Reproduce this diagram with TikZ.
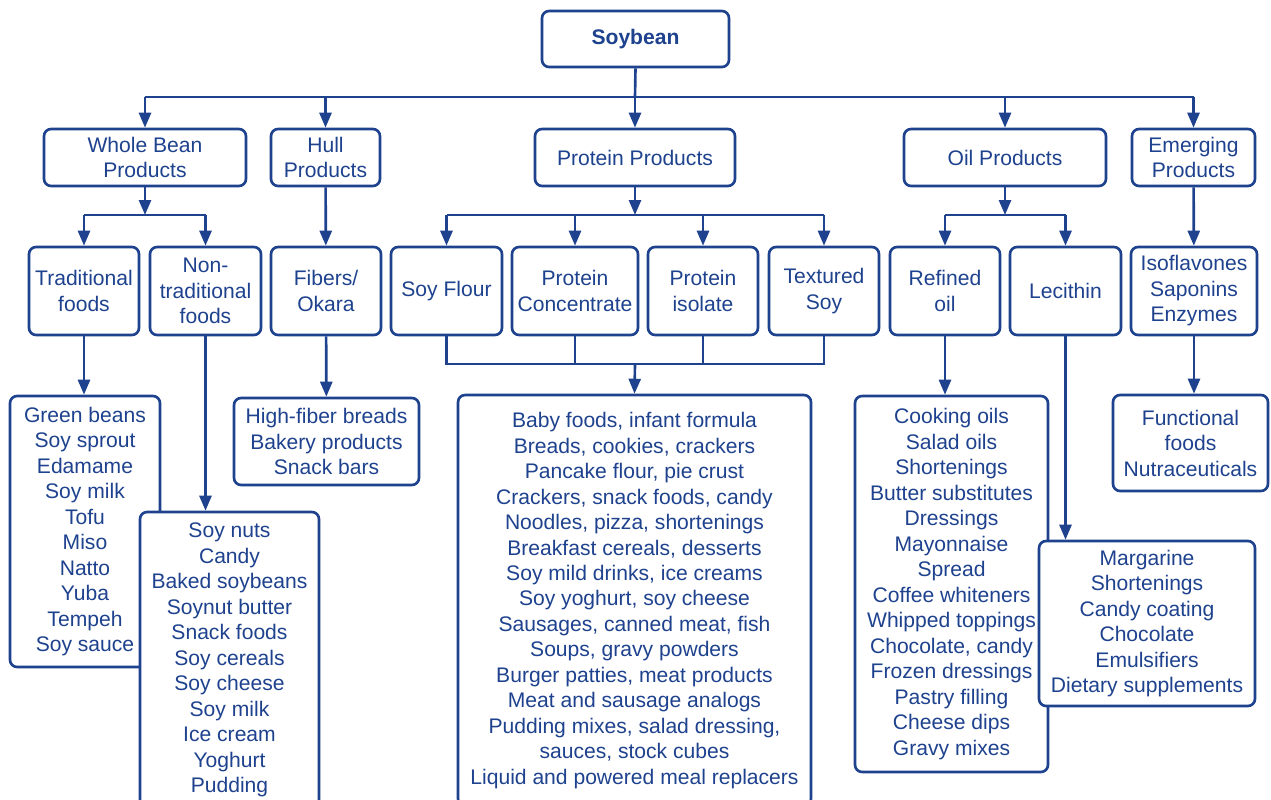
\documentclass[tikz,border=0pt]{standalone}
\definecolor{soyblue}{RGB}{30,66,142}
\usepackage{fontspec}
\setmainfont{Liberation Sans}
\usepackage{tikz}
\usetikzlibrary{arrows.meta,positioning}
\tikzset{
  box/.style={rectangle,rounded corners=4pt,draw=soyblue,fill=white,
              line width=1.5pt,text=soyblue,inner sep=0pt,
              font=\fontsize{12pt}{14.5pt}\selectfont,align=center},
  conn/.style={soyblue,line width=1.5pt},
  arr/.style={conn,-{Triangle[length=0.3cm,width=0.24cm]}},
}
\begin{document}
\begin{tikzpicture}[x=0.02cm,y=-0.02cm]
    \clip (0,0) rectangle (1271,800);

    \node[box,minimum width=3.74cm,minimum height=1.12cm,font=\fontsize{12pt}{14.5pt}\selectfont\bfseries]
         (soy) at (635.5,39) {Soybean};

    \node[box,minimum width=4.04cm,minimum height=1.14cm] (whole)   at (145,157.5)    {Whole Bean\\Products};
    \node[box,minimum width=2.18cm,minimum height=1.14cm] (hull)    at (325.5,157.5)  {Hull\\Products};
    \node[box,minimum width=4.00cm,minimum height=1.14cm] (protein) at (635,157.5)    {Protein Products};
    \node[box,minimum width=4.04cm,minimum height=1.14cm] (oil)     at (1005,157.5)   {Oil Products};
    \node[box,minimum width=2.46cm,minimum height=1.14cm] (emerg)   at (1193.5,157.5) {Emerging\\Products};

    \node[box,minimum width=2.20cm,minimum height=1.76cm] (trad)     at (84,291)     {Traditional\\foods};
    \node[box,minimum width=2.22cm,minimum height=1.76cm] (nontrad)  at (205.5,291)  {Non-\\traditional\\foods};
    \node[box,minimum width=2.20cm,minimum height=1.76cm] (fibers)   at (326,291)    {Fibers/\\Okara};
    \node[box,minimum width=2.22cm,minimum height=1.76cm] (flour)    at (446.5,291)  {Soy Flour};
    \node[box,minimum width=2.52cm,minimum height=1.76cm] (conc)     at (575,291)    {Protein\\Concentrate};
    \node[box,minimum width=2.20cm,minimum height=1.76cm] (isol)     at (703,291)    {Protein\\isolate};
    \node[box,minimum width=2.20cm,minimum height=1.76cm] (textured) at (824,291)    {Textured\\Soy};
    \node[box,minimum width=2.20cm,minimum height=1.76cm] (refined)  at (945,291)    {Refined\\oil};
    \node[box,minimum width=2.22cm,minimum height=1.76cm] (lecithin) at (1065.5,291) {Lecithin};
    \node[box,minimum width=2.52cm,minimum height=1.76cm] (iso)      at (1194,291)   {Isoflavones\\Saponins\\Enzymes};

    \node[box,minimum width=3.00cm,minimum height=5.42cm] (tradlist) at (85,531.5)
         {Green beans\\Soy sprout\\Edamame\\Soy milk\\Tofu\\Miso\\Natto\\Yuba\\Tempeh\\Soy sauce};
    \node[box,minimum width=3.58cm,minimum height=5.92cm] (nontradlist) at (229.5,660)
         {Soy nuts\\Candy\\Baked soybeans\\Soynut butter\\Snack foods\\Soy cereals\\Soy cheese\\Soy milk\\Ice cream\\Yoghurt\\Pudding};
    \node[box,minimum width=3.70cm,minimum height=1.74cm] (fiberlist) at (326.5,441.5)
         {High-fiber breads\\Bakery products\\Snack bars};
    \node[box,minimum width=7.06cm,minimum height=8.22cm] (protlist) at (634.5,600.5)
         {Baby foods, infant formula\\Breads, cookies, crackers\\Pancake flour, pie crust\\
          Crackers, snack foods, candy\\Noodles, pizza, shortenings\\Breakfast cereals, desserts\\
          Soy mild drinks, ice creams\\Soy yoghurt, soy cheese\\Sausages, canned meat, fish\\
          Soups, gravy powders\\Burger patties, meat products\\Meat and sausage analogs\\
          Pudding mixes, salad dressing,\\sauces, stock cubes\\Liquid and powered meal replacers};
    \node[box,minimum width=3.86cm,minimum height=7.52cm] (oillist) at (951.5,584)
         {Cooking oils\\Salad oils\\Shortenings\\Butter substitutes\\Dressings\\Mayonnaise\\Spread\\
          Coffee whiteners\\Whipped toppings\\Chocolate, candy\\Frozen dressings\\Pastry filling\\
          Cheese dips\\Gravy mixes};
    \node[box,minimum width=4.32cm,minimum height=3.30cm] (leclist) at (1147,623.5)
         {Margarine\\Shortenings\\Candy coating\\Chocolate\\Emulsifiers\\Dietary supplements};
    \node[box,minimum width=3.10cm,minimum height=1.92cm] (funclist) at (1190.5,443)
         {Functional\\foods\\Nutraceuticals};

    \coordinate (bus)  at (635,97);
    \coordinate (wbus) at (145,215);
    \coordinate (pbus) at (635,215);
    \coordinate (obus) at (1005,215);
    \coordinate (mbus) at (635,364);

    \draw[conn] (soy.south) -- (bus);
    \draw[conn] (whole.north |- bus) -- (emerg.north |- bus);
    \foreach \n in {whole,hull,protein,oil,emerg}{
      \draw[arr] (\n.north |- bus) -- (\n.north);
    }

    \draw[arr] (whole.south) -- (wbus);
    \draw[conn] (trad.north |- wbus) -- (nontrad.north |- wbus);
    \foreach \n in {trad,nontrad}{
      \draw[arr] (\n.north |- wbus) -- (\n.north);
    }
    \draw[arr] (hull) -- (fibers);

    \draw[arr] (protein.south) -- (pbus);
    \draw[conn] (flour.north |- pbus) -- (textured.north |- pbus);
    \foreach \n in {flour,conc,isol,textured}{
      \draw[arr] (\n.north |- pbus) -- (\n.north);
    }

    \draw[arr] (oil.south) -- (obus);
    \draw[conn] (refined.north |- obus) -- (lecithin.north |- obus);
    \foreach \n in {refined,lecithin}{
      \draw[arr] (\n.north |- obus) -- (\n.north);
    }
    \draw[arr] (emerg) -- (iso);

    \draw[conn] (flour.south) -- (flour.south |- mbus) -- (textured.south |- mbus) -- (textured.south);
    \foreach \n in {conc,isol}{
      \draw[conn] (\n.south) -- (\n.south |- mbus);
    }
    \draw[arr] (mbus) -- (protlist.north);

    \draw[arr] (trad.south) -- (trad.south |- tradlist.north);
    \draw[arr] (nontrad.south) -- (nontrad.south |- nontradlist.north);
    \draw[arr] (fibers) -- (fiberlist);
    \draw[arr] (refined.south) -- (refined.south |- oillist.north);
    \draw[arr] (lecithin.south) -- (lecithin.south |- leclist.north);
    \draw[arr] (iso.south) -- (iso.south |- funclist.north);
\end{tikzpicture}
\end{document}
